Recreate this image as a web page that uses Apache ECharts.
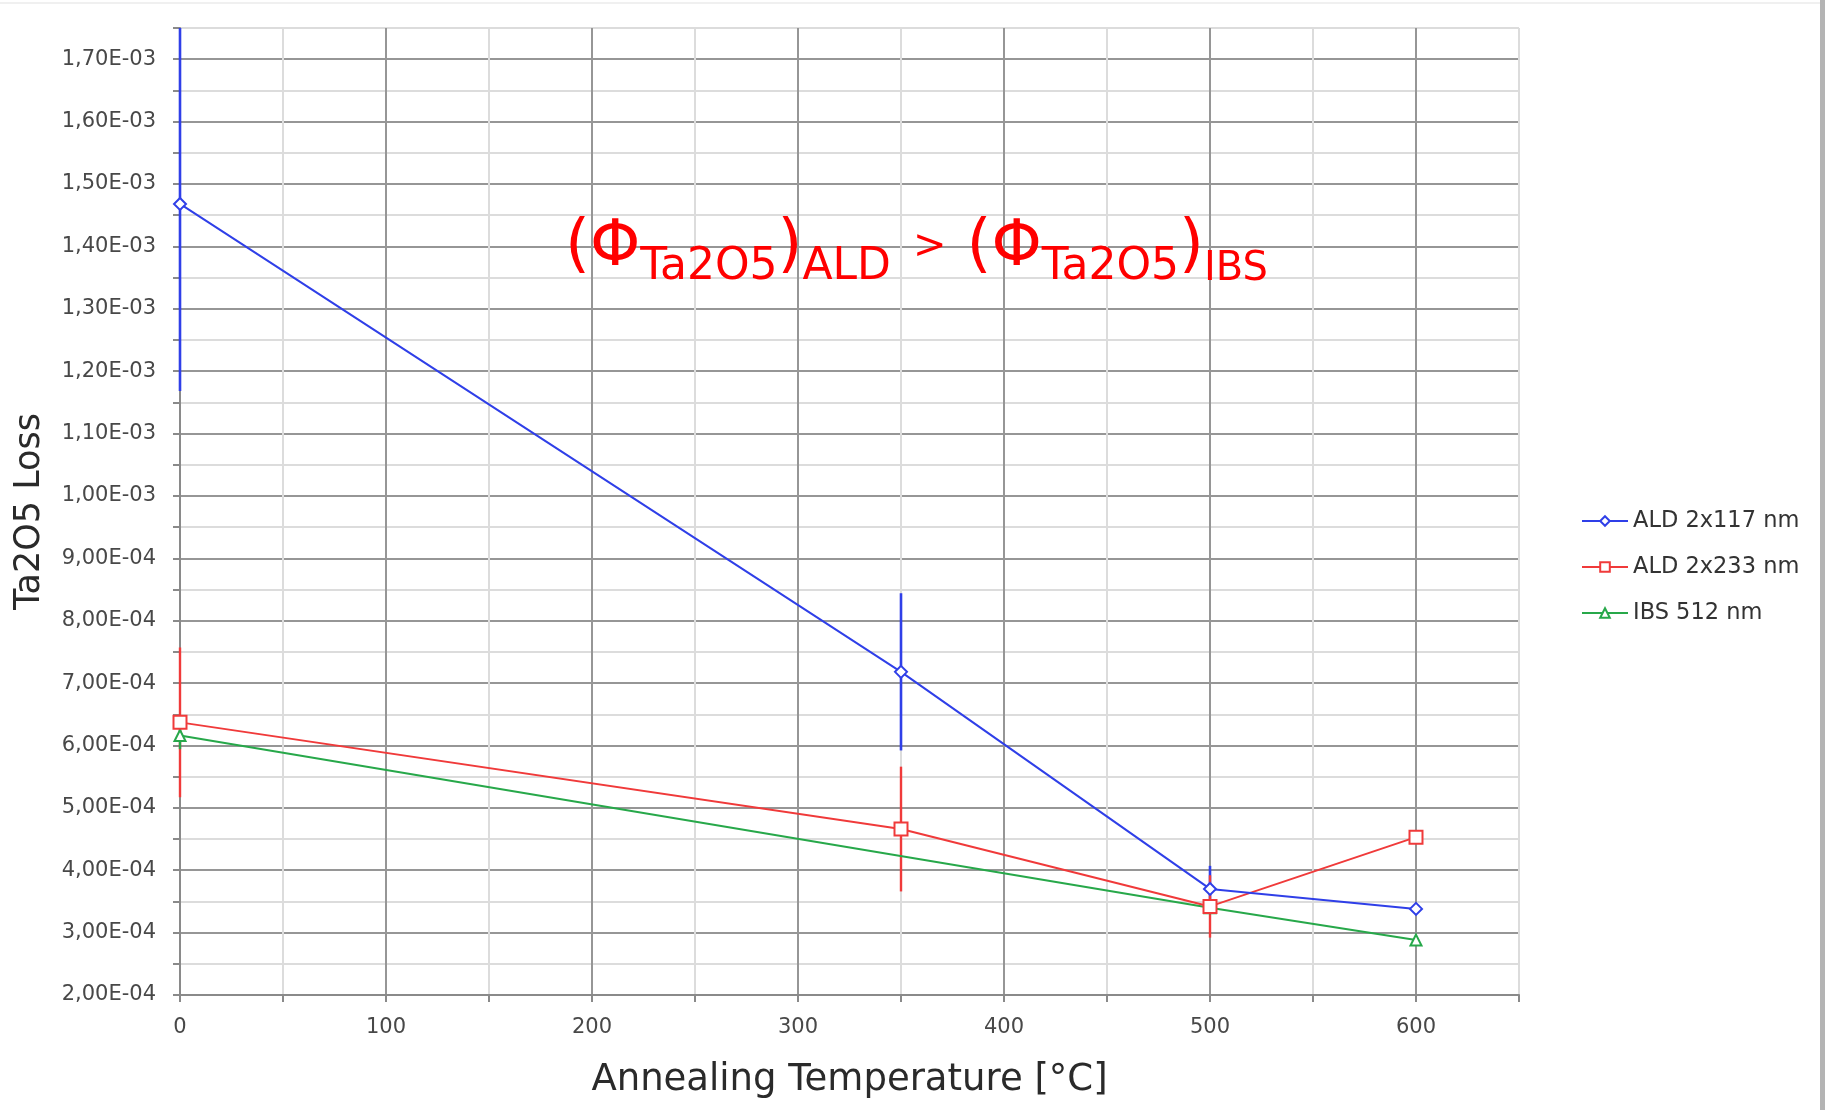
<!DOCTYPE html>
<html><head><meta charset="utf-8">
<style>html,body{margin:0;padding:0;background:#fff;} #chart{width:1825px;height:1110px;}</style>
<script src="https://cdn.jsdelivr.net/npm/echarts@6/dist/echarts.min.js"></script>
</head><body><div id="chart"></div>
<script>
// ---- data ----
const seriesNames = ['ALD 2x117 nm', 'ALD 2x233 nm', 'IBS 512 nm'];
const aldThinX = [0, 350, 500, 600];
const aldThinY = [1.468e-3, 7.18e-4, 3.70e-4, 3.38e-4];
const aldThinErr = [3.0e-4, 1.26e-4, 0.37e-4, 0];
const aldThickX = [0, 350, 500, 600];
const aldThickY = [6.37e-4, 4.66e-4, 3.42e-4, 4.53e-4];
const aldThickErr = [1.2e-4, 1.0e-4, 0.5e-4, 0];
const ibsX = [0, 500, 600];
const ibsY = [6.16e-4, 3.40e-4, 2.88e-4];
const ibsErr = [0.22e-4, 0, 0];
const xTickValues = [0, 100, 200, 300, 400, 500, 600];
const xTickLabels = ['0', '100', '200', '300', '400', '500', '600'];
const yTickValues = [2e-4, 3e-4, 4e-4, 5e-4, 6e-4, 7e-4, 8e-4, 9e-4, 1.0e-3, 1.1e-3, 1.2e-3, 1.3e-3, 1.4e-3, 1.5e-3, 1.6e-3, 1.7e-3];
const yTickLabels = ['2,00E-04', '3,00E-04', '4,00E-04', '5,00E-04', '6,00E-04', '7,00E-04', '8,00E-04', '9,00E-04',
  '1,00E-03', '1,10E-03', '1,20E-03', '1,30E-03', '1,40E-03', '1,50E-03', '1,60E-03', '1,70E-03'];
const xAxisTitle = 'Annealing Temperature [°C]';
const yAxisTitle = 'Ta2O5 Loss';

// ---- styling ----
const FONT = 'DejaVu Sans';
const colors = ['#2f3fe8', '#f03a3a', '#27a84a'];

function lookup(values, labels, v, tol) {
  for (let i = 0; i < values.length; i++) if (Math.abs(values[i] - v) < tol) return labels[i];
  return '';
}
function zip3(xs, ys, es) {
  const out = [];
  for (let i = 0; i < xs.length; i++) if (es[i] > 0) out.push([xs[i], ys[i], es[i]]);
  return out;
}
function errSeries(data, color, width) {
  return {
    type: 'custom', data: data, encode: { x: 0, y: 1 }, z: 2, silent: true,
    renderItem: function (params, api) {
      const x = api.value(0), y = api.value(1), e = api.value(2);
      const cs = params.coordSys;
      const p1 = api.coord([x, y + e]);
      const p2 = api.coord([x, y - e]);
      const top = Math.max(p1[1], cs.y), bot = Math.min(p2[1], cs.y + cs.height);
      return { type: 'line', shape: { x1: p1[0], y1: top, x2: p2[0], y2: bot },
        style: { stroke: color, lineWidth: width } };
    }
  };
}
function lineSeries(name, xs, ys, color, symbol, size, z) {
  return {
    name: name, type: 'line', data: xs.map((x, i) => [x, ys[i]]), z: z,
    symbol: symbol, symbolSize: size,
    lineStyle: { color: color, width: 2 },
    itemStyle: { color: color, borderColor: color, borderWidth: 1.8 }
  };
}

const chart = echarts.init(document.getElementById('chart'));
chart.setOption({
  backgroundColor: '#ffffff',
  animation: false,
  grid: { left: 180, right: 306, top: 28, bottom: 115 },
  xAxis: {
    type: 'value', min: 0, max: 650, interval: 50,
    name: xAxisTitle, nameLocation: 'middle', nameGap: 67,
    nameTextStyle: { fontFamily: FONT, fontSize: 37, color: '#2a2a2a' },
    axisLine: { show: true, lineStyle: { color: '#8a8a8a', width: 2 } },
    axisTick: { show: true, length: 7, lineStyle: { color: '#8a8a8a', width: 2 } },
    axisLabel: { margin: 22, fontFamily: FONT, fontSize: 21, color: '#484848',
      formatter: v => lookup(xTickValues, xTickLabels, v, 1e-6) },
    splitLine: { show: true, lineStyle: { color: ['#969696', '#dcdcdc'], width: 2 } }
  },
  yAxis: {
    type: 'value', min: 2e-4, max: 1.75e-3, interval: 5e-5,
    name: yAxisTitle, nameLocation: 'middle', nameGap: 133, nameRotate: 90,
    nameTextStyle: { fontFamily: FONT, fontSize: 35, color: '#2a2a2a' },
    axisLine: { show: true, lineStyle: { color: '#8a8a8a', width: 2 } },
    axisTick: { show: true, length: 7, lineStyle: { color: '#8a8a8a', width: 2 } },
    axisLabel: { margin: 24, fontFamily: FONT, fontSize: 21, color: '#484848',
      formatter: v => lookup(yTickValues, yTickLabels, v, 1e-9) },
    splitLine: { show: true, lineStyle: { color: ['#969696', '#dcdcdc'], width: 2 } }
  },
  legend: {
    orient: 'vertical', left: 1576, top: 504, itemWidth: 46, itemHeight: 12, itemGap: 22,
    data: seriesNames,
    textStyle: { fontFamily: FONT, fontSize: 22.5, color: '#333', lineHeight: 24 }
  },
  series: [
    errSeries(zip3(aldThinX, aldThinY, aldThinErr), colors[0], 2.6),
    errSeries(zip3(aldThickX, aldThickY, aldThickErr), colors[1], 2.4),
    errSeries(zip3(ibsX, ibsY, ibsErr), colors[2], 2.4),
    lineSeries(seriesNames[0], aldThinX, aldThinY, colors[0], 'emptyDiamond', 12, 5),
    lineSeries(seriesNames[1], aldThickX, aldThickY, colors[1], 'emptyRect', 13, 4),
    lineSeries(seriesNames[2], ibsX, ibsY, colors[2], 'emptyTriangle', 11, 3)
  ],
  graphic: [
    {
      type: 'text', left: 565, top: 216, z: 10,
      style: {
        text: '{b|(Φ}{s|Ta2O5}{b|)}{s|ALD}{g|>}{b|(Φ}{s|Ta2O5}{b|)}{t|IBS}',
        fill: '#ff0000',
        rich: {
          b: { fontFamily: FONT, fontSize: 64, lineHeight: 84, fill: '#ff0000', verticalAlign: 'middle' },
          s: { fontFamily: FONT, fontSize: 44, lineHeight: 36, fill: '#ff0000', verticalAlign: 'bottom' },
          t: { fontFamily: FONT, fontSize: 40, lineHeight: 34, fill: '#ff0000', verticalAlign: 'bottom' },
          g: { fontFamily: FONT, fontSize: 40, lineHeight: 84, fill: '#ff0000', verticalAlign: 'middle', padding: [0, 20, 0, 22] }
        }
      }
    },
    { type: 'rect', left: 1820, top: 0, shape: { width: 5, height: 1110 }, style: { fill: '#b4b4b4' } },
    { type: 'rect', left: 0, top: 2, shape: { width: 1820, height: 2 }, style: { fill: '#f0f0f0' } }
  ]
});
</script>
</body></html>
